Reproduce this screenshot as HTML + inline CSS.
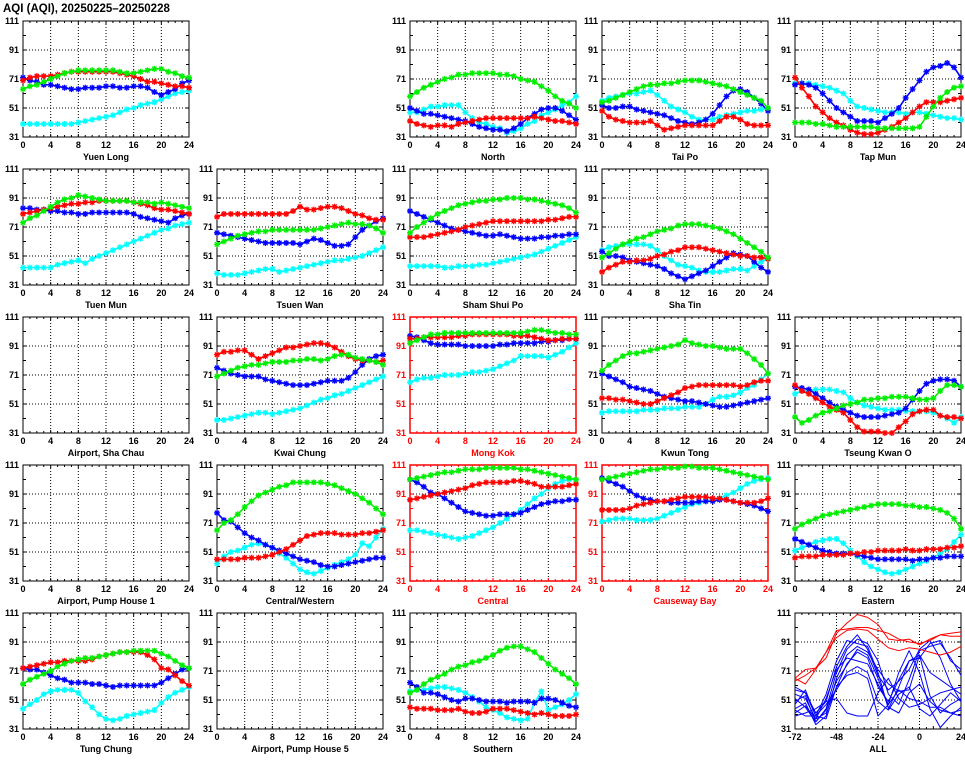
<!DOCTYPE html>
<html><head><meta charset="utf-8"><style>
html,body{margin:0;padding:0;background:#fff;}
svg text{font-family:"Liberation Sans",sans-serif;font-weight:bold;}
</style></head><body>
<svg id="chart" width="965" height="755" viewBox="0 0 965 755" xmlns="http://www.w3.org/2000/svg">
<text x="3" y="12" font-size="11.5" fill="#000">AQI (AQI), 20250225–20250228</text>
</svg>
<script>
const yTicks=[31,51,71,91,111];
const xTicks=[0,4,8,12,16,20,24];
const allXTicks=[-72,-48,-24,0,24];
const colors={R:'#ff0000',G:'#00ee00',B:'#0000ff',C:'#00ffff'};
const stations=[
{name:'Yuen Long',col:0,row:0,hl:false,s:{
R:[70,72,73,73,73,74,75,76,76,76,76,76,76,76,75,74,73,71,69,69,68,67,66,66,65],
G:[64,66,67,69,71,73,75,76,77,77,77,77,77,77,76,75,75,76,77,78,78,76,75,73,72],
B:[72,70,69,67,67,66,65,64,64,65,65,65,66,66,65,65,66,66,65,62,60,62,64,68,70],
C:[40,40,40,40,40,40,40,40,41,42,43,44,45,46,48,50,51,53,54,55,57,59,61,62,63]}},
{name:'North',col:2,row:0,hl:false,s:{
G:[59,62,65,67,69,71,72,74,74,75,75,75,75,74,74,73,71,70,69,66,63,59,56,54,51],
B:[51,49,47,47,46,45,44,43,42,40,38,37,36,36,35,37,40,44,47,50,51,51,49,46,43],
C:[48,48,50,52,52,53,53,53,48,44,41,40,38,37,34,35,37,40,42,46,48,50,53,55,59],
R:[42,40,39,38,39,39,38,40,41,42,43,44,44,44,44,44,44,44,45,44,43,42,42,41,40]}},
{name:'Tai Po',col:3,row:0,hl:false,s:{
G:[55,56,58,60,62,64,66,67,67,68,68,69,70,70,70,69,68,67,66,64,62,60,58,56,51],
C:[56,58,59,60,61,61,62,63,60,56,52,50,48,45,43,43,43,45,46,47,48,49,49,50,51],
B:[53,51,51,52,52,50,49,48,47,46,44,42,41,40,41,43,47,53,59,63,64,62,58,54,49],
R:[49,45,43,42,41,41,41,42,39,36,37,38,39,39,39,39,39,42,45,45,43,40,39,39,39]}},
{name:'Tap Mun',col:4,row:0,hl:false,s:{
R:[72,65,59,52,48,44,41,39,36,34,33,33,34,36,38,41,44,48,52,55,55,55,56,57,58],
B:[67,68,67,65,61,56,51,48,45,42,42,42,41,44,47,51,58,64,70,76,79,80,82,79,72],
C:[68,68,68,67,66,65,63,61,56,52,51,50,49,48,48,48,47,48,48,47,46,45,44,44,43],
G:[41,41,41,40,40,39,38,38,38,38,38,38,37,37,37,37,37,37,38,45,52,58,62,65,66]}},
{name:'Tuen Mun',col:0,row:1,hl:false,s:{
B:[84,84,83,83,82,82,81,81,80,80,81,81,81,81,81,81,80,78,77,76,75,74,77,79,80],
G:[74,77,79,82,85,88,90,91,93,92,91,90,89,89,89,89,88,88,88,87,88,87,86,85,84],
R:[80,81,82,83,84,85,86,87,87,88,88,89,89,89,89,89,88,87,86,84,83,83,82,81,80],
C:[43,43,43,43,43,45,46,47,48,46,49,51,53,55,57,59,61,63,65,67,69,70,72,73,74]}},
{name:'Tsuen Wan',col:1,row:1,hl:false,s:{
R:[78,80,80,80,80,80,80,80,80,80,80,82,85,83,83,84,85,85,84,82,80,79,77,76,76],
G:[59,61,63,65,66,67,68,68,69,69,69,69,69,69,69,70,71,72,73,74,73,73,72,70,67],
B:[67,66,65,64,63,62,61,60,60,60,60,60,59,61,63,62,60,58,58,59,64,69,72,75,77],
C:[39,38,38,38,39,40,41,42,42,40,41,42,43,44,45,46,47,48,48,49,50,51,53,55,57]}},
{name:'Sham Shui Po',col:2,row:1,hl:false,s:{
B:[82,80,78,76,74,72,70,69,68,67,66,65,65,66,65,64,63,63,63,64,64,65,65,66,66],
G:[67,71,74,77,80,82,84,86,87,88,89,89,90,90,91,91,91,90,90,89,88,87,86,84,81],
R:[64,64,64,65,66,67,68,69,71,72,73,74,75,75,75,75,75,75,75,75,76,76,77,78,78],
C:[44,44,44,44,44,43,43,44,44,44,45,45,46,47,48,49,50,51,52,54,56,58,60,62,64]}},
{name:'Sha Tin',col:3,row:1,hl:false,s:{
G:[50,53,56,59,61,63,64,66,68,69,70,72,73,73,73,72,71,70,68,66,63,60,57,54,50],
C:[55,57,58,59,59,59,59,58,55,51,48,45,44,43,41,40,40,40,41,42,42,41,44,47,49],
R:[40,43,45,47,47,48,48,49,51,52,54,55,57,57,57,56,55,54,53,52,51,51,50,50,49],
B:[54,51,51,50,48,47,46,45,44,42,39,37,35,37,39,41,44,47,50,53,52,51,47,43,40]}},
{name:'Airport, Sha Chau',col:0,row:2,hl:false,s:{}},
{name:'Kwai Chung',col:1,row:2,hl:false,s:{
R:[85,87,87,88,88,85,82,84,86,88,90,90,91,92,93,93,92,90,87,84,82,81,81,80,81],
G:[70,72,74,76,77,78,78,79,80,80,80,81,81,82,82,81,82,84,85,85,83,82,81,80,78],
B:[76,74,72,71,70,70,70,68,67,66,65,64,64,64,65,66,67,67,67,69,73,78,82,84,85],
C:[40,40,41,42,43,44,45,45,44,45,46,47,48,50,52,54,55,57,58,60,62,64,66,68,70]}},
{name:'Mong Kok',col:2,row:2,hl:true,s:{
B:[98,97,95,93,92,92,92,92,91,91,91,91,91,92,92,93,93,93,93,94,94,95,95,96,96],
G:[93,95,97,99,99,100,100,100,100,100,100,100,100,100,100,100,100,101,102,102,101,100,100,99,99],
R:[96,96,97,97,97,97,97,98,98,99,99,99,99,99,99,98,98,98,97,96,95,95,96,96,96],
C:[66,68,69,69,70,71,71,71,72,73,73,74,75,77,79,81,84,84,84,84,83,85,87,90,93]}},
{name:'Kwun Tong',col:3,row:2,hl:false,s:{
G:[74,78,81,84,86,86,87,88,89,90,91,92,95,93,92,91,91,90,89,89,89,86,82,78,72],
B:[72,70,68,66,63,62,61,60,58,56,55,54,53,53,52,51,50,49,49,50,51,52,53,54,55],
R:[55,55,54,54,53,52,51,51,53,55,57,59,62,63,64,64,64,64,64,64,63,64,66,67,67],
C:[45,46,46,46,46,46,47,47,47,48,48,48,49,49,49,51,54,56,56,57,59,62,64,68,72]}},
{name:'Tseung Kwan O',col:4,row:2,hl:false,s:{
B:[63,62,61,58,55,52,49,47,45,43,42,42,42,43,44,45,48,54,60,65,67,68,68,67,63],
R:[64,60,58,55,52,49,47,45,40,35,32,32,32,31,31,35,39,44,46,47,47,43,42,42,41],
C:[58,60,60,61,61,61,60,59,55,52,50,49,48,47,47,47,46,46,46,46,45,43,41,38,42],
G:[42,38,40,43,45,46,48,50,51,52,54,54,55,55,56,56,56,55,54,54,55,60,64,64,63]}},
{name:'Airport, Pump House 1',col:0,row:3,hl:false,s:{}},
{name:'Central/Western',col:1,row:3,hl:false,s:{
G:[66,71,73,77,82,86,90,92,94,96,97,99,99,99,99,99,98,97,95,93,91,88,85,81,77],
B:[78,73,72,68,64,61,59,56,54,52,50,48,46,45,44,42,41,41,42,43,44,45,46,47,47],
R:[46,46,46,46,47,47,47,48,49,51,53,56,59,62,63,64,64,64,63,63,63,64,64,65,66],
C:[43,48,51,52,54,56,57,56,54,50,47,43,39,37,36,38,40,42,44,46,49,57,55,61,67]}},
{name:'Central',col:2,row:3,hl:true,s:{
G:[101,102,103,104,105,106,106,107,108,108,108,109,109,109,109,109,108,108,107,106,105,104,103,102,101],
B:[101,99,96,92,91,88,85,82,79,78,77,76,76,77,77,77,78,80,82,84,85,86,86,87,87],
R:[87,88,89,90,91,92,93,94,95,97,98,99,99,99,99,100,100,99,98,96,96,96,96,97,98],
C:[66,66,65,64,63,62,61,60,61,62,64,66,68,71,74,77,80,84,88,91,95,98,100,101,101]}},
{name:'Causeway Bay',col:3,row:3,hl:true,s:{
G:[101,102,103,104,105,106,107,108,108,109,109,109,110,110,109,109,109,108,107,106,105,104,103,102,101],
B:[102,100,98,96,93,90,88,87,86,86,85,85,85,85,86,86,86,87,87,86,85,84,83,81,79],
R:[80,80,80,80,81,83,84,85,86,86,87,88,89,89,89,89,88,88,87,86,85,85,85,86,88],
C:[72,73,74,74,74,73,73,73,74,76,78,80,82,84,85,86,87,88,90,92,95,98,100,101,102]}},
{name:'Eastern',col:4,row:3,hl:false,s:{
G:[67,70,72,74,76,77,78,79,80,81,82,83,84,84,84,84,83,83,82,82,81,80,78,74,67],
B:[60,58,56,54,52,51,50,50,50,49,48,47,46,46,46,46,46,45,46,46,47,47,48,48,48],
R:[47,48,48,48,49,49,49,49,50,50,51,51,52,52,52,52,53,52,52,53,53,53,54,54,55],
C:[52,54,56,58,59,60,60,57,52,48,44,41,39,37,36,37,39,41,43,45,47,50,53,58,63]}},
{name:'Tung Chung',col:0,row:4,hl:false,s:{
R:[73,74,75,76,77,77,78,78,78,78,79,81,82,83,84,84,84,84,82,79,73,72,68,64,61],
G:[62,65,67,69,71,74,76,78,79,80,80,81,82,83,84,84,85,85,85,85,83,81,78,75,73],
B:[73,72,72,70,68,66,65,63,63,63,62,62,61,60,61,61,61,61,61,61,63,66,69,72,73],
C:[45,48,51,55,57,58,58,58,56,50,46,41,38,37,38,40,41,42,43,44,49,53,56,58,60]}},
{name:'Airport, Pump House 5',col:1,row:4,hl:false,s:{}},
{name:'Southern',col:2,row:4,hl:false,s:{
G:[56,58,62,65,67,69,72,74,75,77,78,80,82,85,87,88,88,86,84,80,76,72,69,66,62],
B:[63,60,56,56,55,53,51,50,52,52,51,50,50,50,49,50,50,50,49,52,52,51,49,47,46],
C:[57,58,58,59,60,60,59,58,56,53,50,46,44,42,39,38,37,38,49,57,44,46,48,51,55],
R:[46,45,45,45,44,44,44,45,43,42,42,43,45,45,45,44,43,42,41,42,41,40,40,40,41]}}
];
const allHours=[-72,-66,-60,-54,-48,-42,-36,-30,-24,-18,-12,-6,0,6,12,18,24];
const allRed=[
[66,72,73,80,97,104,110,108,103,93,92,93,89,93,96,97,98],
[66,62,72,84,99,100,101,101,99,97,93,91,90,92,96,95,95],
[64,68,73,84,94,99,100,99,93,87,85,87,86,84,82,84,88]];
const allBlue=[
[58,56,40,55,78,92,90,88,70,45,60,78,80,90,92,78,72],
[50,54,36,45,70,86,93,90,78,55,48,65,85,88,90,80,68],
[45,49,34,40,66,82,88,84,72,62,57,58,82,70,65,60,55],
[42,47,38,42,60,76,84,80,60,50,65,78,82,54,42,48,52],
[55,52,38,52,72,80,78,76,62,48,70,85,70,45,32,40,46],
[40,42,45,50,52,42,40,40,56,66,52,46,48,52,56,58,60],
[48,58,40,48,58,70,74,70,50,44,55,60,45,40,48,56,50],
[52,46,36,44,64,75,86,82,66,46,42,56,62,50,44,42,44],
[60,56,42,50,74,88,96,86,68,58,64,72,86,92,80,62,50],
[44,40,40,38,60,68,70,66,40,48,58,52,50,46,46,42,40]];

const NS='http://www.w3.org/2000/svg';
const svg=document.getElementById('chart');
const colX=[23,217,410,602,795], rowY=[21,169,317,465,613], PW=166, PH=116;
function mk(tag,attrs,parent){const e=document.createElementNS(NS,tag);for(const k in attrs)e.setAttribute(k,attrs[k]);(parent||svg).appendChild(e);return e;}

function drawPanel(px,py,xmin,xmax,xt,gridX,title,hl,slug){
  const g=mk('g',{});
  
  
  const fc=hl?'#ff0000':'#000';
  const sx=v=>px+(v-xmin)/(xmax-xmin)*PW;
  const sy=v=>py+PH-(v-31)/80*PH;
  [51,71,91].forEach(v=>{const l=mk('line',{x1:px,x2:px+PW,y1:sy(v),y2:sy(v),stroke:'#000','stroke-width':1,'stroke-dasharray':'1,2'},g);
    });
  gridX.forEach(v=>{const l=mk('line',{x1:sx(v),x2:sx(v),y1:py,y2:py+PH,stroke:'#000','stroke-width':1,'stroke-dasharray':'1,2'},g);
    });
  for(let v=31;v<=111;v+=10){const y=sy(v);
    mk('line',{x1:px,x2:px+3,y1:y,y2:y,stroke:fc},g);mk('line',{x1:px+PW-3,x2:px+PW,y1:y,y2:y,stroke:fc},g);}
  for(let i=0;i<=24;i++){const x=px+i*PW/24;const len=(i%4==0)?3:2;
    mk('line',{x1:x,x2:x,y1:py,y2:py+len,stroke:fc},g);mk('line',{x1:x,x2:x,y1:py+PH-len,y2:py+PH,stroke:fc},g);}
  yTicks.forEach(v=>{const t=mk('text',{x:px-4,y:sy(v)+3,'font-size':9,'text-anchor':'end',fill:fc},g);t.textContent=v;
    });
  xt.forEach(v=>{const t=mk('text',{x:sx(v),y:py+PH+11,'font-size':9,'text-anchor':'middle',fill:fc},g);t.textContent=v;
    });
  const tt=mk('text',{x:px+PW/2,y:py+PH+23,'font-size':9,'text-anchor':'middle',fill:fc},g);tt.textContent=title;
  
  const fr=mk('rect',{x:px,y:py,width:PW,height:PH,fill:'none',stroke:fc,'stroke-width':hl?1.5:1},g);
  
  return {g,sx,sy};
}

stations.forEach(st=>{
  const slug=st.name.toLowerCase().replace(/[^a-z0-9]+/g,'-').replace(/-$/,'');
  const {g,sx,sy}=drawPanel(colX[st.col],rowY[st.row],0,24,xTicks,[4,8,12,16,20],st.name,st.hl,slug);
  ['C','B','R','G'].forEach(k=>{
    const vals=st.s[k]; if(!vals) return;
    const c=colors[k];
    const pts=vals.map((v,i)=>sx(i).toFixed(1)+','+sy(v).toFixed(1)).join(' ');
    const pl=mk('polyline',{points:pts,fill:'none',stroke:c,'stroke-width':1.6},g);
    
    
    vals.forEach((v,i)=>{
      const x=sx(i),y=sy(v),r=3;
      const m=mk('path',{d:`M${x-r},${y}H${x+r}M${x},${y-r}V${y+r}M${x-2.2},${y-2.2}L${x+2.2},${y+2.2}M${x-2.2},${y+2.2}L${x+2.2},${y-2.2}`,stroke:c,'stroke-width':1.3},g);
      
      
    });
  });
});

(function(){
  const {g,sx,sy}=drawPanel(colX[4],rowY[4],-72,24,allXTicks,[-48,-24,0],'ALL',false,'all');
  allBlue.forEach((vals,j)=>{
    const pts=vals.map((v,i)=>sx(allHours[i]).toFixed(1)+','+sy(v).toFixed(1)).join(' ');
    const pl=mk('polyline',{points:pts,fill:'none',stroke:'#0000ff','stroke-width':1,'stroke-linejoin':'round'},g);
    
    
  });
  allRed.forEach((vals,j)=>{
    const pts=vals.map((v,i)=>sx(allHours[i]).toFixed(1)+','+sy(v).toFixed(1)).join(' ');
    const pl=mk('polyline',{points:pts,fill:'none',stroke:'#ff0000','stroke-width':1,'stroke-linejoin':'round'},g);
    
    
  });
})();
</script>
</body></html>
